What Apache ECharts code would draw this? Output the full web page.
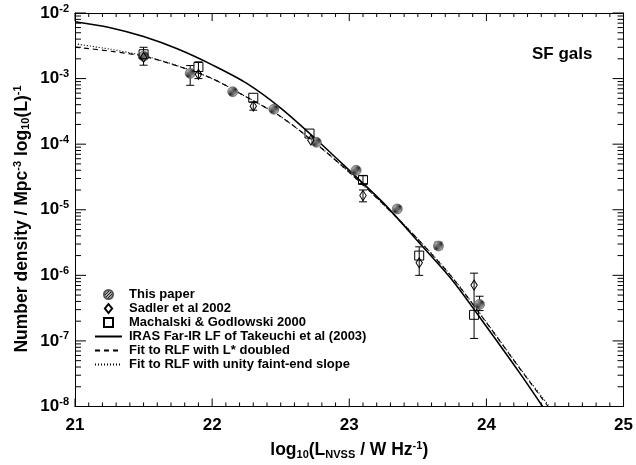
<!DOCTYPE html>
<html lang="en">
<head>
<meta charset="UTF-8">
<title>SF gals luminosity function</title>
<script src="https://cdn.jsdelivr.net/npm/echarts@6/dist/echarts.min.js"></script>
<style>
  html, body { margin: 0; padding: 0; background: #fff; }
  #chart { width: 636px; height: 465px; }
</style>
</head>
<body>
<div id="chart"></div>
<script>
// points: log10(L_NVSS) and number density
const thisPaperX = [21.5, 21.84, 22.15, 22.45, 22.76, 23.05, 23.35, 23.65, 23.95];
const thisPaperY = [2.2e-3, 1.2e-3, 6.3e-4, 3.4e-4, 1.07e-4, 4.0e-5, 1.03e-5, 2.8e-6, 3.6e-7];

const sadlerX = [21.5, 21.9, 22.3, 22.72, 23.1, 23.51, 23.91];
const sadlerY = [2.1e-3, 1.16e-3, 3.8e-4, 1.15e-4, 1.65e-5, 1.55e-6, 7.1e-7];

const machalskiX = [21.5, 21.9, 22.3, 22.71, 23.1, 23.51, 23.91];
const machalskiY = [2.35e-3, 1.5e-3, 5.1e-4, 1.45e-4, 2.85e-5, 2.0e-6, 2.5e-7];

// error bars
const errX  = [21.5, 21.84, 21.9, 22.3, 23.1, 23.1, 23.51, 23.65, 23.91, 23.95];
const errLo = [1.6e-3, 7.9e-4, 1.0e-3, 3.3e-4, 2.5e-5, 1.32e-5, 1.0e-6, 2.5e-6, 1.09e-7, 2.9e-7];
const errHi = [3.0e-3, 1.58e-3, 1.8e-3, 4.4e-4, 3.3e-5, 2.0e-5, 2.72e-6, 3.2e-6, 1.08e-6, 4.8e-7];

// model curves
const irasX = [21.0, 21.25, 21.5, 21.75, 22.0, 22.25, 22.5, 22.75, 23.0, 23.25, 23.5, 23.75, 24.0, 24.25, 24.41];
const irasY = [7.35e-3, 6.03e-3, 4.37e-3, 2.82e-3, 1.62e-3, 8.51e-4, 3.55e-4, 1.23e-4, 3.98e-5, 1.26e-5, 3.31e-6, 8.51e-7, 1.66e-7, 3.09e-8, 1e-8];

const lstarX = [21.0, 21.25, 21.5, 21.75, 22.0, 22.25, 22.5, 22.75, 23.0, 23.25, 23.5, 23.75, 24.0, 24.25, 24.45];
const lstarY = [3.02e-3, 2.63e-3, 2.19e-3, 1.55e-3, 1.0e-3, 5.25e-4, 2.63e-4, 1.05e-4, 3.72e-5, 1.2e-5, 3.55e-6, 9.3e-7, 1.9e-7, 3.63e-8, 1e-8];

const unityX = [21.0, 21.25, 21.5, 21.75, 22.0, 22.25, 22.5, 22.75, 23.0, 23.25, 23.5, 23.75, 24.0, 24.25, 24.46];
const unityY = [3.39e-3, 2.82e-3, 2.24e-3, 1.56e-3, 1.0e-3, 5.25e-4, 2.63e-4, 1.05e-4, 3.72e-5, 1.2e-5, 3.6e-6, 9.4e-7, 1.92e-7, 3.7e-8, 1e-8];

const legendNames = [
    'This paper',
    'Sadler et al 2002',
    'Machalski & Godlowski 2000',
    'IRAS Far-IR LF of Takeuchi et al (2003)',
    'Fit to RLF with L* doubled',
    'Fit to RLF with unity faint-end slope'
];

const FONT = '"Liberation Sans", Arial, Helvetica, sans-serif';
const DIAMOND = 'path://M4,0 L8,5 L4,10 L0,5 Z';
const SQUARE = 'path://M0,0 L10,0 L10,10 L0,10 Z';

function zip(xs, ys) {
    return xs.map((x, i) => [x, ys[i]]);
}

// hatched fill for "This paper" symbols
const hatch = document.createElement('canvas');
hatch.width = 3;
hatch.height = 3;
const hc = hatch.getContext('2d');
hc.fillStyle = '#a8a8a8';
hc.fillRect(0, 0, 3, 3);
hc.fillStyle = '#222';
hc.fillRect(2, 0, 1, 1);
hc.fillRect(1, 1, 1, 1);
hc.fillRect(0, 2, 1, 1);

// one custom layer for error bars and frame ticks: [x, y, extra, kind]
// kind 0 = error bar (extra = upper), 1 = x tick (extra = px length), 2 = y tick
const marks = errX.map((x, i) => [x, errLo[i], errHi[i], 0]);
for (let i = 0; i <= 40; i++) marks.push([21 + i / 10, 1e-5, i % 10 === 0 ? 8 : 4, 1]);
for (let e = -8; e <= -2; e++) {
    marks.push([22, Math.pow(10, e), 11, 2]);
    if (e < -2) for (let k = 2; k <= 9; k++) marks.push([22, k * Math.pow(10, e), 6, 2]);
}

const chart = echarts.init(document.getElementById('chart'));

const supRich = {
    t: { fontSize: 17.5, fontWeight: 'bold', fontFamily: FONT, color: '#000' },
    sup: { fontSize: 11, fontWeight: 'bold', fontFamily: FONT, color: '#000', padding: [0, 0, 9, 0] },
    sub: { fontSize: 11, fontWeight: 'bold', fontFamily: FONT, color: '#000', padding: [8, 0, 0, 0] }
};

function frameLine() {
    return { show: true, lineStyle: { color: '#000', width: 1 } };
}
function seg(x1, y1, x2, y2) {
    return { type: 'line', shape: { x1: x1, y1: y1, x2: x2, y2: y2 }, style: { stroke: '#000', lineWidth: 1 } };
}

chart.setOption({
    animation: false,
    backgroundColor: '#fff',
    grid: { left: 75, right: 8, top: 13, bottom: 48, containLabel: false },
    legend: {
        data: legendNames,
        orient: 'vertical',
        left: 89,
        top: 283,
        itemWidth: 27,
        itemHeight: 9,
        itemGap: 1,
        selectedMode: false,
        symbolKeepAspect: true,
        textStyle: { fontSize: 13, fontWeight: 'bold', fontFamily: FONT, color: '#000', padding: [0, 0, 0, 2] }
    },
    xAxis: [{
        type: 'value', min: 21, max: 25, interval: 1,
        axisLine: frameLine(),
        axisTick: { show: false },
        splitLine: { show: false },
        axisLabel: { fontSize: 17, fontWeight: 'bold', fontFamily: FONT, color: '#000', margin: 10 },
        name: '{t|log}{sub|10}{t|(L}{sub|NVSS}{t| / W Hz}{sup|-1}{t|)}',
        nameLocation: 'middle',
        nameGap: 34,
        nameTextStyle: { rich: supRich }
    }, {
        type: 'value', min: 21, max: 25, interval: 1, position: 'top',
        axisLine: frameLine(),
        axisTick: { show: false },
        splitLine: { show: false },
        axisLabel: { show: false }
    }],
    yAxis: [{
        type: 'log', min: 1e-8, max: 1e-2, logBase: 10, splitNumber: 6,
        axisLine: frameLine(),
        axisTick: { show: false },
        splitLine: { show: false },
        axisLabel: {
            margin: 6,
            formatter: v => '{b|10}{e|' + Math.round(Math.log10(v)) + '}',
            rich: {
                b: { fontSize: 17, fontWeight: 'bold', fontFamily: FONT, color: '#000' },
                e: { fontSize: 11, fontWeight: 'bold', fontFamily: FONT, color: '#000', padding: [0, 0, 9, 0] }
            }
        }
    }, {
        type: 'log', min: 1e-8, max: 1e-2, logBase: 10, splitNumber: 6, position: 'right',
        axisLine: frameLine(),
        axisTick: { show: false },
        splitLine: { show: false },
        axisLabel: { show: false }
    }],
    graphic: [{
        type: 'text',
        x: 22, y: 219,
        rotation: Math.PI / 2,
        style: {
            text: '{t|Number density / Mpc}{sup|-3}{t| log}{sub|10}{t|(L)}{sup|-1}',
            rich: supRich,
            align: 'center',
            verticalAlign: 'middle'
        }
    }, {
        type: 'text',
        left: 532, top: 46,
        style: { text: 'SF gals', fontSize: 17, fontWeight: 'bold', fontFamily: FONT, fill: '#000' }
    }],
    series: [{
        name: 'errors',
        type: 'custom',
        data: marks,
        z: 3,
        renderItem: function (params, api) {
            const kind = api.value(3);
            if (kind === 0) {
                const lo = api.coord([api.value(0), api.value(1)]);
                const hi = api.coord([api.value(0), api.value(2)]);
                const cap = 4;
                return {
                    type: 'group',
                    children: [
                        seg(lo[0], lo[1], hi[0], hi[1]),
                        seg(lo[0] - cap, lo[1], lo[0] + cap, lo[1]),
                        seg(hi[0] - cap, hi[1], hi[0] + cap, hi[1])
                    ]
                };
            }
            const len = api.value(2);
            if (kind === 1) {
                const b = api.coord([api.value(0), 1e-8]);
                const t = api.coord([api.value(0), 1e-2]);
                return {
                    type: 'group',
                    children: [seg(b[0], b[1], b[0], b[1] - len), seg(t[0], t[1], t[0], t[1] + len)]
                };
            }
            const l = api.coord([21, api.value(1)]);
            const r = api.coord([25, api.value(1)]);
            return {
                type: 'group',
                children: [seg(l[0], l[1], l[0] + len, l[1]), seg(r[0] - len, r[1], r[0], r[1])]
            };
        }
    }, {
        name: 'This paper',
        type: 'scatter',
        data: zip(thisPaperX, thisPaperY),
        symbol: 'circle',
        symbolSize: 10,
        itemStyle: { color: { image: hatch, repeat: 'repeat' }, borderColor: '#555', borderWidth: 0.6, opacity: 1 },
        z: 3
    }, {
        name: 'Sadler et al 2002',
        type: 'scatter',
        data: zip(sadlerX, sadlerY),
        symbol: DIAMOND,
        symbolSize: [8, 10],
        symbolKeepAspect: true,
        itemStyle: { color: 'rgba(255,255,255,0)', borderColor: '#000', borderWidth: 1, opacity: 1 },
        z: 4
    }, {
        name: 'Machalski & Godlowski 2000',
        type: 'scatter',
        data: zip(machalskiX, machalskiY),
        symbol: SQUARE,
        symbolSize: 9,
        symbolKeepAspect: true,
        itemStyle: { color: 'rgba(255,255,255,0)', borderColor: '#000', borderWidth: 1, opacity: 1 },
        z: 4
    }, {
        name: 'IRAS Far-IR LF of Takeuchi et al (2003)',
        type: 'line',
        data: zip(irasX, irasY),
        symbol: 'none',
        smooth: 0.3,
        lineStyle: { color: '#000', width: 1.6, type: 'solid' },
        itemStyle: { color: 'rgba(0,0,0,0)', borderWidth: 0 },
        z: 2
    }, {
        name: 'Fit to RLF with L* doubled',
        type: 'line',
        data: zip(lstarX, lstarY),
        symbol: 'none',
        smooth: 0.3,
        lineStyle: { color: '#000', width: 1.2, type: [5, 4] },
        itemStyle: { color: 'rgba(0,0,0,0)', borderWidth: 0 },
        z: 2
    }, {
        name: 'Fit to RLF with unity faint-end slope',
        type: 'line',
        data: zip(unityX, unityY),
        symbol: 'none',
        smooth: 0.3,
        lineStyle: { color: '#000', width: 1.2, type: [1, 2] },
        itemStyle: { color: 'rgba(0,0,0,0)', borderWidth: 0 },
        z: 2
    }]
});
</script>
</body>
</html>
